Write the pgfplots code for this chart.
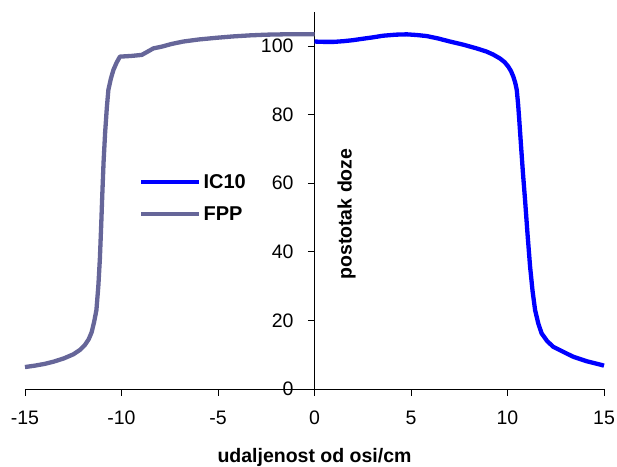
\documentclass[border=0pt]{standalone}
\usepackage{pgfplots}
\pgfplotsset{compat=1.18}
\usepackage{fontspec}
\setmainfont{Liberation Sans}
\definecolor{fppcol}{RGB}{102,102,153}
\definecolor{iccol}{RGB}{0,0,255}
\begin{document}
\begin{tikzpicture}
\useasboundingbox (-25bp,-78bp) rectangle (592bp,389bp);
\begin{axis}[
  at={(0,0)}, anchor=south west,
  scale only axis, width=579bp, height=377.3bp,
  xmin=-15, xmax=15, ymin=0, ymax=110,
  axis x line=bottom, axis y line=center,
  axis line style={-, line width=0.8bp, black},
  xtick={-15,-10,...,15}, ytick={0,20,...,100},
  hide obscured x ticks=false, hide obscured y ticks=false,
  tick align=outside, major tick length=6.5bp,
  tick style={black, line width=0.8bp},
  /pgf/number format/assume math mode=true,
  tick label style={font=\fontsize{19.5bp}{22bp}\selectfont},
  yticklabel style={anchor=east, xshift=-11bp},
  xticklabel style={yshift=-12bp},
  xlabel={\textbf{udaljenost od osi/cm}},
  xlabel style={at={(axis description cs:0.5,0)}, anchor=center, yshift=-68bp, font=\fontsize{19.5bp}{22bp}\selectfont},
  ylabel={\textbf{postotak doze}},
  ylabel style={at={(axis cs:1.66,51)}, anchor=center, rotate=90, font=\fontsize{19.5bp}{22bp}\selectfont},
  clip=false,
  legend style={draw=none, fill=none, at={(axis cs:-9.09,55.7)}, anchor=west, inner sep=0pt,
    font=\fontsize{20bp}{22bp}\selectfont\bfseries, row sep=13bp,
    nodes={inner sep=2bp}},
  legend cell align=left,
  legend image code/.code={\draw[#1] (0bp,0bp) -- (58bp,0bp);},
]
\addplot[iccol, line width=4.3bp, line join=round] coordinates {
(0,101.3) (0.5,101.2) (1,101.2) (1.49,101.4) (2,101.7) (2.36,102.0) (3,102.5) (3.56,103.0) (4.2,103.3) (4.78,103.4) (5.3,103.2) (5.81,102.9) (6.4,102.2) (7.02,101.3) (7.7,100.4) (8.4,99.3) (8.9,98.4) (9.26,97.5) (9.6,96.4) (9.85,95.3) (10.04,94.0) (10.18,92.7) (10.3,91.1) (10.4,89.3) (10.48,87.2) (10.55,83) (10.61,78.4) (10.7,71) (10.8,63) (10.91,55.1) (11.04,45) (11.17,35.7) (11.3,28.5) (11.43,23.0) (11.6,19.0) (11.77,16.2) (12.05,14.0) (12.37,12.3) (12.9,10.8) (13.41,9.4) (14.1,8.1) (14.88,7.0) (15,6.8)
};
\addlegendentry{IC10}
\addplot[fppcol, line width=4.3bp, line join=round] coordinates {
(-15,6.4) (-14.5,6.8) (-14,7.3) (-13.5,8.0) (-13,8.9) (-12.5,10.1) (-12.15,11.4) (-11.9,12.8) (-11.7,14.5) (-11.55,16.5) (-11.42,19.5) (-11.3,23) (-11.2,30) (-11.12,38) (-11.05,48) (-11.0,56) (-10.93,66) (-10.85,74.6) (-10.76,82) (-10.68,87.2) (-10.55,90.5) (-10.42,93.0) (-10.25,95.2) (-10.08,96.9) (-9.5,97.1) (-8.95,97.4) (-8.6,98.5) (-8.35,99.3) (-7.92,99.8) (-7.4,100.6) (-6.8,101.3) (-6,101.9) (-5.07,102.4) (-4.2,102.8) (-3.34,103.1) (-2.5,103.3) (-1.62,103.4) (0,103.4)
};
\addlegendentry{FPP}
\end{axis}
\end{tikzpicture}
\end{document}
